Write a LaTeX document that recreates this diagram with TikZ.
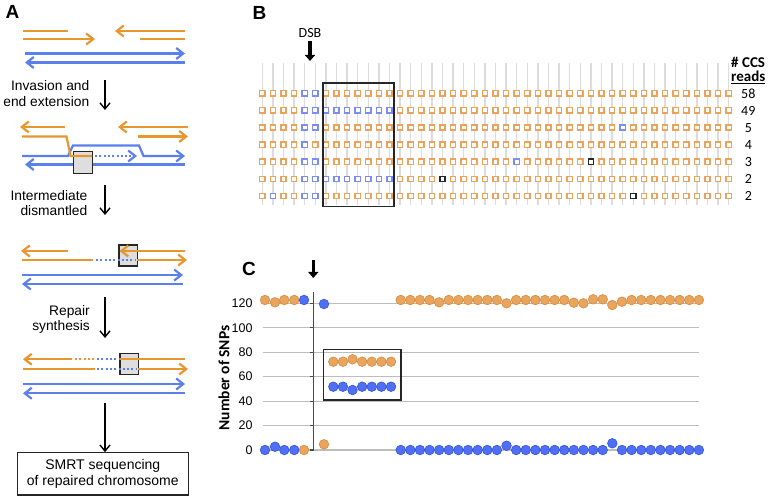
\documentclass[tikz,border=0pt]{standalone}
\usepackage{fontspec}
\setmainfont{Liberation Sans}
\newfontfamily\calfont{Carlito}
\usetikzlibrary{arrows.meta}
\definecolor{orA}{HTML}{E8962F}
\definecolor{blA}{HTML}{5B80EE}
\definecolor{orS}{HTML}{EBA35A}
\definecolor{blS}{HTML}{7D8CF0}
\definecolor{grL}{HTML}{DCDCDC}
\definecolor{orD}{HTML}{E9A45E}
\definecolor{orDe}{HTML}{D68C3E}
\definecolor{blD}{HTML}{4F6FF5}
\definecolor{blDe}{HTML}{3552DD}
\definecolor{gridc}{HTML}{BDBDBD}
\begin{document}
\begin{tikzpicture}[x=1bp,y=-1bp,
  orl/.style={draw=orA,line width=2.2bp},
  bll/.style={draw=blA,line width=2.2bp},
  ordot/.style={draw=orA,line width=2.2bp,dash pattern=on 2bp off 2.3bp},
  bldot/.style={draw=blA,line width=2.2bp,dash pattern=on 2bp off 2.3bp},
  hd/.style={-{Straight Barb[length=7bp,width=11bp]}},
  stepar/.style={draw=black,line width=1.4bp,-{Straight Barb[length=6bp,width=10bp]}},
  gbox/.style={draw=black!85,line width=1.3bp,fill=black!13},
  lbl/.style={font=\fontsize{13.8bp}{15.5bp}\selectfont,align=right,anchor=east,inner sep=0},
  panel/.style={font=\fontsize{19bp}{19bp}\selectfont\bfseries,inner sep=0},
  sqo/.style={draw=orS,line width=1.3bp,fill=white},
  sqb/.style={draw=blS,line width=1.3bp,fill=white},
  sqk/.style={draw=black!85,line width=1.3bp,fill=white},
  bfont/.style={font=\calfont\fontsize{14bp}{16bp}\selectfont,inner sep=0},
  dsbarrow/.style={draw=black,line width=3.2bp,-{Triangle[length=6bp,width=10bp]}},
  odot/.style={fill=orD,draw=orDe,line width=0.6bp},
  bdot/.style={fill=blD,draw=blDe,line width=0.6bp},
  tick/.style={font=\fontsize{12.5bp}{14bp}\selectfont,anchor=east,inner sep=0}
]
\useasboundingbox (0,0) rectangle (768,498);
\fill[white] (0,0) rectangle (768,498);

% ================= Panel A =================
\node[panel] (pa) at (12.5,12) {A};
% row 1
\draw[orl] (23,31) -- (68,31);
\draw[orl,hd] (23,39) -- (95,39);
\draw[orl,hd] (185,31) -- (115,31);
\draw[orl] (140,39) -- (185,39);
\draw[bll,hd] (25,53.5) -- (185,53.5);
\draw[bll,hd] (185,62.5) -- (25,62.5);
% step 1
\coordinate (s1a) at (105,80); \coordinate (s1b) at (105,110);
\draw[stepar] (s1a) -- (s1b);
\node[lbl] (l1) at (89.5,93.5) {Invasion and\\end extension};
% row 2
\draw[orl,hd] (65,127) -- (20,127);
\draw[orl,hd] (188,127) -- (118,127);
\draw[orl,hd] (138,136.5) -- (188,136.5);
\draw[bll,hd] (22,156) -- (68,156) -- (73,145.5) -- (139,145.5) -- (143.5,156) -- (185,156);
\draw[bll,hd] (185,164.5) -- (25,164.5);
\draw[gbox] (73.3,151.7) rectangle (92.7,173.3);
\draw[orl] (22,136.5) -- (66.5,136.5) -- (70.5,156) -- (92,156);
\draw[bldot,hd] (95,156) -- (137,156);
% step 2
\coordinate (s2a) at (105,185); \coordinate (s2b) at (105,215);
\draw[stepar] (s2a) -- (s2b);
\node[lbl] (l2) at (87.5,203.3) {Intermediate\\dismantled};
% row 3
\draw[gbox] (119,245) rectangle (137.3,266);
\draw[orl,hd] (68,251) -- (21,251);
\draw[orl] (22,260) -- (93,260);
\draw[bldot] (96,260) -- (136,260);
\draw[orl,hd] (185,251) -- (119.5,251);
\draw[orl,hd] (137.3,260) -- (187,260);
\draw[bll,hd] (22,275) -- (183,275);
\draw[bll,hd] (183,284) -- (22,284);
% step 3
\coordinate (s3a) at (105,297); \coordinate (s3b) at (105,338);
\draw[stepar] (s3a) -- (s3b);
\node[lbl] (l3) at (90,319.5) {Repair\\synthesis};
% row 4
\draw[gbox] (120,353.3) rectangle (138.3,374.3);
\draw[orl,hd] (72,359.3) -- (23,359.3);
\draw[ordot] (75,359.3) -- (95,359.3);
\draw[bldot] (97,359.3) -- (119,359.3);
\draw[orl] (120,359.3) -- (185,359.3);
\draw[orl] (23,369) -- (95,369);
\draw[bldot] (97,369) -- (137,369);
\draw[orl,hd] (138.3,369) -- (188,369);
\draw[bll,hd] (23,384) -- (185,384);
\draw[bll,hd] (185,393.3) -- (23,393.3);
% step 4
\node[draw=black!85,line width=1.2bp,minimum width=171bp,minimum height=42.3bp,align=center,inner sep=0,
      font=\fontsize{14bp}{16.6bp}\selectfont] (smrt) at (102.8,473.85) {SMRT sequencing\\of repaired chromosome};
\coordinate (s4a) at (105,403);
\draw[stepar] (s4a) -- (smrt.north -| s4a);

% ================= Panel B =================
\node[panel] (pb) at (259.5,12.5) {B};
\foreach \i in {0,...,44} {
  \pgfmathsetmacro\xx{262.3+10.6*\i}
  \draw[grL,line width=1.3bp] (\xx,63) -- (\xx,205);
}
\foreach \j in {0,...,6} {
  \pgfmathsetmacro\yy{93.3+17.1*\j}
  \foreach \i in {0,...,44} {
    \pgfmathsetmacro\xx{262.3+10.6*\i}
    \draw[sqo] (\xx-2.6,\yy-2.6) rectangle +(5.2,5.2);
  }
}
\foreach \i/\j in {4/0,5/0,4/1,5/1,6/1,7/1,8/1,9/1,10/1,11/1,12/1,4/2,5/2,34/2,4/3,4/4,5/4,24/4,
                   4/5,5/5,6/5,7/5,8/5,9/5,10/5,11/5,12/5,1/6,4/6,5/6} {
  \pgfmathsetmacro\xx{262.3+10.6*\i}
  \pgfmathsetmacro\yy{93.3+17.1*\j}
  \draw[sqb] (\xx-2.6,\yy-2.6) rectangle +(5.2,5.2);
}
\foreach \i/\j in {31/4,17/5,35/6} {
  \pgfmathsetmacro\xx{262.3+10.6*\i}
  \pgfmathsetmacro\yy{93.3+17.1*\j}
  \draw[sqk] (\xx-2.6,\yy-2.6) rectangle +(5.2,5.2);
}
\draw[black!85,line width=1.3bp] (323,83) rectangle (394,206.5);
\node[bfont] (dsb) at (310,33) {DSB};
\coordinate (dsbb) at (310,61);
\draw[dsbarrow] (dsb.south) ++(0,3) -- (dsbb);
\node[bfont,font=\calfont\fontsize{15bp}{16bp}\selectfont\bfseries,anchor=west] (ccs) at (731,62) {\# CCS};
\node[bfont,font=\calfont\fontsize{15bp}{16bp}\selectfont\bfseries,anchor=west] (rds) at (731,77.5) {\underline{reads}};
\foreach \n [count=\j from 0] in {58,49,5,4,3,2,2} {
  \pgfmathsetmacro\yy{93.3+17.1*\j}
  \node[bfont] (n\j) at (748.3,\yy+0.5) {\n};
}

% ================= Panel C =================
\node[panel] (pc) at (249,269) {C};
\coordinate (ca) at (313.3,260.5); \coordinate (cb) at (313.3,278);
\draw[dsbarrow] (ca) -- (cb);
\foreach \v in {0,20,...,120} {
  \pgfmathsetmacro\yy{450-1.2225*\v}
  \draw[gridc,line width=1.1bp] (263,\yy) -- (699,\yy);
  \draw[black!70,line width=1.1bp] (309.5,\yy) -- (313.3,\yy);
  \node[tick] (t\v) at (252.7,\yy) {\v};
}
\draw[black!70,line width=1.1bp] (313.3,291.5) -- (313.3,451);
\node[rotate=90,font=\calfont\fontsize{15.5bp}{17bp}\selectfont\bfseries,inner sep=0] (ylab) at (224,378) {Number of SNPs};
\draw[black!85,line width=1.3bp] (323.3,349.3) rectangle (401,400);
% left dots
\foreach \xx/\yy in {265/300,275/302.3,284.3/300,294.3/300} { \filldraw[odot] (\xx,\yy) circle (4.8); }
\filldraw[bdot] (304,300) circle (4.8);
\foreach \xx/\yy in {265/450,275/446.7,284.3/450,294.3/450} { \filldraw[bdot] (\xx,\yy) circle (4.8); }
\filldraw[odot] (304,450) circle (4.8);
\filldraw[bdot] (324,304) circle (4.8);
\filldraw[odot] (324,444.3) circle (4.8);
% box dots
\foreach \yy [count=\m from 0] in {361.7,361.7,359.3,361.7,361.7,361.7,361.7} {
  \pgfmathsetmacro\xx{333.3+9.62*\m}
  \filldraw[odot] (\xx,\yy) circle (4.8);
}
\foreach \yy [count=\m from 0] in {386.7,386.7,390,386.7,386.7,386.7,386.7} {
  \pgfmathsetmacro\xx{333.3+9.62*\m}
  \filldraw[bdot] (\xx,\yy) circle (4.8);
}
% right dots
\foreach \yy [count=\k from 0] in {300,300,300,300,302.3,300,300,300,300,300,300,303.3,300,300,300,300,
                                   300,300,302.7,303.3,299.3,299.3,305,301.7,300,300,300,300,300,300,300,300} {
  \pgfmathsetmacro\xx{400.7+9.62*\k}
  \filldraw[odot] (\xx,\yy) circle (4.8);
}
\foreach \yy [count=\k from 0] in {450,450,450,450,450,450,450,450,450,450,450,445.7,450,450,450,450,
                                   450,450,450,450,450,450,443.3,450,450,450,450,450,450,450,450,450} {
  \pgfmathsetmacro\xx{400.7+9.62*\k}
  \filldraw[bdot] (\xx,\yy) circle (4.8);
}
\end{tikzpicture}
\end{document}
